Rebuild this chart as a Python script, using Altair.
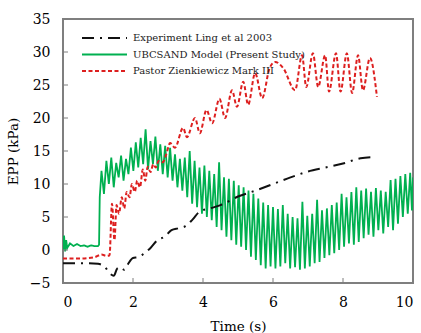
import altair as alt
import pandas as pd

# ---------------- data ----------------
series_names = ["Experiment Ling et al 2003",
                "UBCSAND Model (Present Study)",
                "Pastor Zienkiewicz Mark III"]
series_colors = ["#111111", "#00b050", "#dd1f1f"]

exp_t = [0, 0.5, 1.0, 1.2, 1.35, 1.45, 1.55, 1.65, 1.75, 1.85, 2.0, 2.15, 2.3, 2.5,
         2.7, 2.9, 3.1, 3.3, 3.5, 3.7, 3.9, 4.2, 4.5, 5.0, 5.5, 6.0, 6.5, 7.0, 7.5,
         8.0, 8.5, 8.9]
exp_y = [-2.0, -2.0, -2.1, -2.6, -3.6, -3.9, -2.8, -2.6, -3.0, -2.2, -1.2, -1.1, -0.6,
         0.3, 1.5, 2.0, 3.0, 3.3, 3.6, 4.6, 5.8, 6.3, 6.8, 8.1, 9.0, 10.0, 11.0, 11.9,
         12.5, 13.1, 13.9, 14.1]

red_t = [0, 0.5, 0.9, 1.1, 1.25, 1.33, 1.4, 1.47, 1.53, 1.6, 1.68, 1.75, 1.82, 1.9,
         1.97, 2.05, 2.12, 2.2, 2.28, 2.35, 2.42, 2.5, 2.58, 2.65, 2.73, 2.85, 2.95,
         3.06, 3.2, 3.43, 3.54, 3.77, 3.91, 4.1, 4.26, 4.47, 4.63, 4.83, 4.97, 5.15,
         5.29, 5.49, 5.69, 5.9, 6.06, 6.3, 6.63, 6.83, 6.95, 7.14, 7.29, 7.49, 7.6,
         7.8, 7.93, 8.11, 8.26, 8.43, 8.57, 8.77, 8.97]
red_y = [-1.3, -1.3, -1.1, -0.7, -0.9, -0.8, 7.0, 1.5, 6.8, 5.5, 8.0, 6.3, 8.8, 8.0,
         10.0, 8.8, 10.5, 9.5, 12.2, 10.5, 12.6, 11.8, 13.0, 12.5, 13.5, 13.3, 14.5,
         16.2, 15.5, 18.5, 17.1, 20.0, 17.7, 21.2, 19.2, 22.9, 20.0, 24.2, 21.7, 25.5,
         22.0, 26.8, 23.0, 27.5, 28.5, 27.5, 24.2, 29.5, 24.7, 29.8, 24.7, 29.5, 24.0,
         29.8, 24.0, 29.8, 23.8, 29.5, 24.2, 29.1, 23.2]

green_t = [0, 0.03, 0.06, 0.09, 0.12, 0.2, 0.3, 0.4, 0.5, 0.6, 0.7, 0.8, 0.9, 1.0, 1.03,
           1.05, 1.10, 1.17, 1.24, 1.31, 1.38, 1.45, 1.52, 1.59, 1.66, 1.73, 1.80, 1.87,
           1.94, 2.01, 2.08, 2.15, 2.22, 2.29, 2.36, 2.43, 2.50, 2.57, 2.64, 2.71, 2.78,
           2.85, 2.92, 2.99, 3.06, 3.13, 3.20, 3.27, 3.34, 3.41, 3.48, 3.55, 3.62, 3.69,
           3.76, 3.83, 3.90, 3.97, 4.04, 4.11, 4.18, 4.25, 4.32, 4.39, 4.46, 4.53, 4.60,
           4.67, 4.74, 4.81, 4.88, 4.95, 5.02, 5.09, 5.16, 5.23, 5.30, 5.37, 5.44, 5.51,
           5.58, 5.65, 5.72, 5.79, 5.86, 5.93, 6.00, 6.07, 6.14, 6.21, 6.28, 6.35, 6.42,
           6.49, 6.56, 6.63, 6.70, 6.77, 6.84, 6.91, 6.98, 7.05, 7.12, 7.19, 7.26, 7.33,
           7.40, 7.47, 7.54, 7.61, 7.68, 7.75, 7.82, 7.89, 7.96, 8.03, 8.10, 8.17, 8.24,
           8.31, 8.38, 8.45, 8.52, 8.59, 8.66, 8.73, 8.80, 8.87, 8.94, 9.01, 9.08, 9.15,
           9.22, 9.29, 9.36, 9.43, 9.50, 9.57, 9.64, 9.71, 9.78, 9.85, 9.92, 9.97, 10.0]
green_y = [0.0, 2.2, -0.2, 1.5, 0.3, 1.0, 0.6, 0.9, 0.6, 0.7, 0.5, 0.7, 0.6, 0.6, 0.8,
           8.0, 12.0, 8.5, 13.5, 10.0, 14.0, 9.5, 13.2, 11.0, 14.3, 10.5, 13.8, 11.5,
           15.5, 12.0, 16.3, 12.5, 17.0, 13.0, 18.3, 12.2, 16.5, 13.0, 17.2, 12.0, 16.0,
           11.5, 15.8, 11.0, 15.5, 10.5, 14.5, 9.5, 13.8, 9.0, 14.0, 8.0, 15.0, 7.0,
           13.5, 6.5, 12.5, 5.5, 12.8, 5.0, 12.0, 4.5, 11.5, 3.5, 13.3, 3.0, 11.0,
           2.0, 10.8, 1.5, 10.5, 0.8, 9.8, 0.5, 9.5, 0.0, 9.0, -1.0, 8.5, -1.5,
           7.8, -2.3, 7.2, -2.8, 6.8, -2.5, 6.5, -2.8, 6.2, -2.5, 6.8, -2.0, 5.5,
           -2.8, 5.0, -2.6, 4.8, -3.0, 7.3, -2.8, 5.2, -2.5, 5.5, -2.0, 7.6, -1.8,
           6.0, -1.2, 6.3, -0.8, 6.8, -0.5, 7.2, 0.0, 8.5, 0.5, 8.0, 1.0, 8.8,
           0.8, 9.5, 1.2, 9.0, 1.8, 9.3, 2.3, 8.8, 2.0, 9.4, 3.0, 9.0, 2.5,
           8.8, 3.5, 10.6, 3.0, 10.8, 4.0, 11.2, 5.0, 11.5, 5.5, 11.7, 6.0, 11.0]

x_ticks = [0, 2, 4, 6, 8, 10]
y_ticks = [-5, 0, 5, 10, 15, 20, 25, 30, 35]

# ---------------- chart ----------------
FONT = "DejaVu Serif"
W, H = 350, 264
FRAME = "#7f7f7f"

df_exp = pd.DataFrame({"t": exp_t, "v": exp_y, "s": series_names[0]})
df_green = pd.DataFrame({"t": green_t, "v": green_y, "s": series_names[1]})
df_red = pd.DataFrame({"t": red_t, "v": red_y, "s": series_names[2]})

xs = alt.Scale(domain=[0, 10], nice=False)
ys = alt.Scale(domain=[-5, 35], nice=False)

x_axis = alt.Axis(values=x_ticks, title="Time (s)", ticks=False, domain=False,
                  grid=False, labelPadding=12, titlePadding=10)
y_axis = alt.Axis(values=y_ticks, title="EPP (kPa)", ticks=False, domain=False,
                  grid=False, labelPadding=13, titlePadding=9)

X = alt.X("t:Q", scale=xs, axis=x_axis)
Y = alt.Y("v:Q", scale=ys, axis=y_axis)

dashes = [[12, 6, 2, 6], [1, 0], [4, 2.5]]
widths = [2, 1.8, 2]


def series_line(df, i, interp):
    return alt.Chart(df).mark_line(
        color=series_colors[i], strokeWidth=widths[i], strokeDash=dashes[i],
        interpolate=interp, clip=True
    ).encode(x=X, y=Y)


green = series_line(df_green, 1, "linear")
red = series_line(df_red, 2, "monotone")
black = series_line(df_exp, 0, "monotone")

# inward tick marks
xt = alt.Chart(pd.DataFrame({"t": x_ticks})).mark_rule(color=FRAME, strokeWidth=1).encode(
    x=X, y=alt.value(H), y2=alt.value(H - 5))
yt = alt.Chart(pd.DataFrame({"v": y_ticks})).mark_rule(color=FRAME, strokeWidth=1).encode(
    y=Y, x=alt.value(0), x2=alt.value(5))

# legend (drawn inside the plot)
legend_layers = []
for i, name in enumerate(series_names):
    yy = 19 + 16.5 * i
    legend_layers.append(
        alt.Chart(pd.DataFrame({"s": [name]})).mark_rule(
            color=series_colors[i], strokeWidth=2, strokeDash=dashes[i]
        ).encode(x=alt.value(19), x2=alt.value(64), y=alt.value(yy))
    )
    legend_layers.append(
        alt.Chart(pd.DataFrame({"s": [name]})).mark_text(
            font=FONT, fontSize=10, color="#222222", align="left", baseline="middle"
        ).encode(x=alt.value(70), y=alt.value(yy), text="s:N")
    )

chart = alt.layer(green, red, black, xt, yt, *legend_layers).properties(
    width=W, height=H,
    padding={"left": 63, "top": 19, "right": 8, "bottom": 50},
    autosize="none",
).configure_view(
    stroke=FRAME, strokeWidth=2
).configure_axis(
    labelFont=FONT, labelFontSize=14, labelColor="black",
    titleFont=FONT, titleFontSize=13.5, titleFontWeight="normal", titleColor="black",
)

chart.save("out.html", embed_options={"renderer": "svg", "actions": False})
